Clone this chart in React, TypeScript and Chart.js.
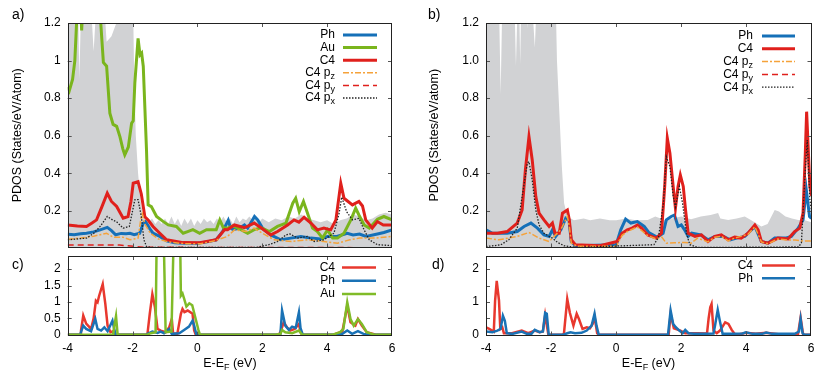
import React, { useEffect, useRef } from "react";
import { Chart, registerables } from "chart.js";

Chart.register(...registerables);

const FONT = "'Liberation Sans', Arial, Helvetica, sans-serif";
const W = 833;
const H = 382;
const YW = 40;
const XH = 30;

// ---------- ticks ----------
const xTickValues = [-4, -2, 0, 2, 4, 6];
const xTickLabels = ["-4", "-2", "0", "2", "4", "6"];
const topYTickValues = [0.2, 0.4, 0.6, 0.8, 1.0, 1.2];
const aYTickLabels = ["0.2", "0.4", "0.6", "0.8", "1", "1.2"];
const bYTickLabels = ["0.2", "0.4", "0.6", "0.8", "1.0", "1.2"];
const botYTickValues = [0, 0.5, 1, 1.5, 2];
const cYTickLabels = ["0", "0.5", "1", "1.5", "2"];
const dYTickLabels = ["0", "", "1", "", "2"];

// ---------- panel a ----------
const aGreyE = [-4.0, -3.7, -3.64, -3.6, -3.55, -3.35, -3.2, -3.05, -2.95, -2.8, -2.65, -2.5, -2.4, -2.0, -1.95, -1.9, -1.83, -1.75, -1.68, -1.6, -1.5, -1.4, -1.3, -1.2, -1.1, -1.0, -0.9, -0.8, -0.7, -0.6, -0.5, -0.4, -0.3, -0.2, -0.1, 0.0, 0.1, 0.2, 0.3, 0.4, 0.5, 0.6, 0.7, 0.8, 0.9, 1.0, 1.1, 1.2, 1.3, 1.4, 1.5, 1.6, 1.7, 1.8, 1.9, 2.0, 2.2, 2.4, 2.6, 2.8, 3.0, 3.2, 3.4, 3.6, 3.8, 4.0, 4.2, 4.4, 4.6, 4.8, 5.0, 5.2, 5.4, 5.6, 5.8, 6.0];
const aGreyV = [1.5, 1.5, 0.9, 1.2, 1.5, 1.5, 1.05, 1.5, 1.5, 1.1, 1.13, 1.2, 1.5, 1.5, 0.9, 0.6, 0.4, 0.25, 0.18, 0.15, 0.14, 0.16, 0.13, 0.15, 0.13, 0.16, 0.13, 0.17, 0.13, 0.16, 0.12, 0.16, 0.13, 0.16, 0.12, 0.15, 0.13, 0.16, 0.14, 0.15, 0.13, 0.16, 0.14, 0.17, 0.14, 0.16, 0.13, 0.17, 0.14, 0.16, 0.15, 0.17, 0.15, 0.17, 0.14, 0.16, 0.14, 0.16, 0.15, 0.17, 0.16, 0.18, 0.16, 0.15, 0.14, 0.15, 0.13, 0.15, 0.16, 0.18, 0.17, 0.15, 0.16, 0.18, 0.19, 0.18];

const aPhE = [-4.0, -3.8, -3.6, -3.42, -3.2, -3.0, -2.78, -2.65, -2.52, -2.35, -2.2, -2.08, -1.95, -1.78, -1.67, -1.6, -1.52, -1.45, -1.37, -1.16, -0.95, -0.7, -0.4, 0.0, 0.3, 0.58, 0.78, 0.95, 1.02, 1.1, 1.3, 1.45, 1.55, 1.76, 1.86, 2.01, 2.26, 2.57, 2.88, 3.19, 3.5, 3.8, 4.01, 4.3, 4.62, 4.8, 5.0, 5.2, 5.55, 5.75, 6.0];
const aPhV = [0.076, 0.073, 0.078, 0.081, 0.088, 0.099, 0.112, 0.095, 0.073, 0.08, 0.078, 0.081, 0.073, 0.081, 0.134, 0.143, 0.12, 0.1, 0.081, 0.064, 0.04, 0.03, 0.027, 0.028, 0.035, 0.046, 0.09, 0.15, 0.11, 0.1, 0.108, 0.125, 0.108, 0.17, 0.152, 0.108, 0.072, 0.046, 0.055, 0.064, 0.055, 0.05, 0.064, 0.064, 0.081, 0.072, 0.077, 0.064, 0.077, 0.085, 0.099];

const aAuE = [-4.0, -3.95, -3.85, -3.78, -3.7, -3.62, -3.57, -3.5, -3.1, -3.0, -2.9, -2.8, -2.7, -2.6, -2.49, -2.39, -2.3, -2.24, -2.13, -2.03, -1.98, -1.93, -1.83, -1.77, -1.72, -1.67, -1.57, -1.52, -1.42, -1.26, -1.06, -0.9, -0.65, -0.44, -0.3, -0.14, 0.07, 0.28, 0.58, 0.69, 0.8, 0.93, 1.1, 1.34, 1.55, 1.75, 1.97, 2.22, 2.47, 2.73, 2.94, 3.03, 3.14, 3.27, 3.39, 3.55, 3.7, 3.86, 4.01, 4.17, 4.32, 4.52, 4.73, 4.88, 4.98, 5.14, 5.3, 5.55, 5.75, 6.0];
const aAuV = [0.86, 0.84, 0.9, 1.0, 1.3, 1.35, 1.16, 1.4, 1.4, 1.25, 0.99, 0.97, 0.72, 0.66, 0.65, 0.595, 0.53, 0.498, 0.54, 0.666, 0.68, 0.88, 1.118, 1.03, 1.04, 0.97, 0.524, 0.232, 0.223, 0.17, 0.144, 0.125, 0.117, 0.081, 0.09, 0.1, 0.081, 0.1, 0.1, 0.152, 0.11, 0.108, 0.12, 0.1, 0.081, 0.1, 0.11, 0.09, 0.117, 0.135, 0.241, 0.267, 0.196, 0.25, 0.19, 0.108, 0.09, 0.055, 0.099, 0.055, 0.055, 0.081, 0.152, 0.214, 0.178, 0.125, 0.108, 0.155, 0.17, 0.152];

const aC4E = [-4.0, -3.7, -3.42, -3.25, -3.11, -2.95, -2.78, -2.65, -2.49, -2.29, -2.14, -2.05, -1.98, -1.83, -1.73, -1.62, -1.52, -1.37, -1.16, -0.95, -0.44, 0.07, 0.58, 0.84, 0.93, 1.14, 1.45, 1.75, 1.96, 2.26, 2.47, 2.78, 2.98, 3.13, 3.29, 3.5, 3.7, 3.9, 4.11, 4.27, 4.42, 4.52, 4.78, 4.98, 5.09, 5.19, 5.39, 5.55, 5.73, 6.0];
const aC4V = [0.125, 0.12, 0.117, 0.135, 0.152, 0.22, 0.294, 0.25, 0.223, 0.161, 0.17, 0.25, 0.347, 0.355, 0.29, 0.168, 0.151, 0.117, 0.081, 0.046, 0.031, 0.03, 0.046, 0.1, 0.099, 0.125, 0.11, 0.135, 0.11, 0.072, 0.09, 0.125, 0.152, 0.14, 0.166, 0.135, 0.099, 0.108, 0.099, 0.152, 0.347, 0.267, 0.232, 0.25, 0.226, 0.152, 0.108, 0.143, 0.125, 0.125];

const aPzE = [-4.0, -3.6, -3.2, -3.0, -2.8, -2.6, -2.3, -2.08, -1.83, -1.75, -1.7, -1.62, -1.45, -1.2, -0.9, -0.4, 0.1, 0.5, 0.93, 1.14, 1.5, 1.75, 2.0, 2.37, 2.9, 3.4, 3.9, 4.32, 4.7, 5.0, 5.5, 6.0];
const aPzV = [0.049, 0.055, 0.065, 0.073, 0.081, 0.06, 0.06, 0.046, 0.055, 0.15, 0.185, 0.13, 0.081, 0.05, 0.035, 0.025, 0.025, 0.04, 0.064, 0.099, 0.09, 0.108, 0.081, 0.046, 0.037, 0.046, 0.037, 0.028, 0.046, 0.055, 0.055, 0.064];

const aPyE = [-4.0, -2.4, -1.6, 6.0];
const aPyV = [0.018, 0.018, 0.006, 0.004];

const aPxE = [-4.0, -3.42, -3.2, -3.0, -2.78, -2.6, -2.5, -2.29, -2.1, -2.0, -1.93, -1.83, -1.73, -1.65, -1.57, -1.4, 1.8, 2.2, 2.47, 2.73, 2.85, 3.1, 3.39, 3.6, 3.9, 4.21, 4.37, 4.45, 4.6, 4.78, 4.98, 5.14, 5.3, 5.55, 6.0];
const aPxV = [0.046, 0.055, 0.08, 0.117, 0.17, 0.15, 0.143, 0.108, 0.117, 0.2, 0.259, 0.26, 0.17, 0.046, 0.01, 0.005, 0.005, 0.02, 0.037, 0.072, 0.077, 0.055, 0.064, 0.037, 0.046, 0.081, 0.188, 0.273, 0.196, 0.152, 0.16, 0.099, 0.046, 0.02, 0.015];

// ---------- panel b ----------
const bGreyE = [-4.0, -3.62, -3.55, -3.48, -3.15, -3.08, -3.0, -2.95, -2.9, -2.78, -2.72, -2.65, -2.5, -2.4, -1.88, -1.82, -1.67, -1.6, -1.5, -1.3, -1.0, -0.8, -0.5, -0.2, 0.0, 0.3, 0.6, 0.97, 1.2, 1.49, 1.7, 2.0, 2.3, 2.6, 2.9, 3.13, 3.2, 3.44, 3.7, 3.95, 4.15, 4.46, 4.65, 4.87, 5.0, 5.2, 5.4, 5.59, 5.8, 6.0];
const bGreyV = [1.5, 1.5, 0.82, 1.5, 1.5, 0.97, 1.5, 0.98, 1.5, 1.5, 1.17, 1.5, 1.07, 1.5, 1.5, 1.0, 0.436, 0.24, 0.17, 0.15, 0.16, 0.15, 0.16, 0.15, 0.15, 0.16, 0.15, 0.152, 0.17, 0.152, 0.16, 0.17, 0.155, 0.17, 0.178, 0.188, 0.16, 0.152, 0.16, 0.17, 0.15, 0.117, 0.13, 0.205, 0.196, 0.17, 0.16, 0.152, 0.15, 0.14];

const bPhE = [-4.0, -3.8, -3.35, -3.04, -2.83, -2.62, -2.42, -2.22, -2.06, -1.96, -1.86, -1.7, -1.55, -1.45, -1.38, -1.25, 0.0, 0.03, 0.14, 0.29, 0.45, 0.65, 0.86, 1.0, 1.25, 1.44, 1.54, 1.69, 1.79, 1.9, 2.0, 2.1, 2.21, 2.32, 2.6, 2.82, 3.03, 3.3, 3.5, 3.7, 3.95, 4.26, 4.46, 4.66, 4.87, 5.2, 5.38, 5.59, 5.74, 5.84, 5.94, 6.0];
const bPhV = [0.099, 0.081, 0.081, 0.09, 0.117, 0.135, 0.108, 0.072, 0.064, 0.099, 0.064, 0.099, 0.161, 0.15, 0.037, 0.014, 0.02, 0.037, 0.099, 0.156, 0.135, 0.143, 0.117, 0.085, 0.06, 0.081, 0.152, 0.17, 0.178, 0.117, 0.125, 0.099, 0.064, 0.081, 0.072, 0.046, 0.064, 0.064, 0.046, 0.055, 0.064, 0.117, 0.037, 0.028, 0.055, 0.055, 0.064, 0.108, 0.152, 0.312, 0.17, 0.16];

const bC4E = [-4.0, -3.65, -3.35, -3.04, -2.89, -2.79, -2.68, -2.58, -2.47, -2.37, -2.22, -2.06, -1.96, -1.88, -1.75, -1.65, -1.5, -1.44, -1.38, -1.25, -0.5, 0.03, 0.18, 0.34, 0.49, 0.65, 0.78, 0.97, 1.23, 1.39, 1.49, 1.57, 1.65, 1.75, 1.82, 1.9, 1.97, 2.06, 2.13, 2.21, 2.42, 2.62, 2.82, 3.03, 3.23, 3.44, 3.64, 3.84, 4.05, 4.26, 4.36, 4.46, 4.66, 4.97, 5.28, 5.48, 5.64, 5.74, 5.81, 5.85, 5.95, 6.0];
const bC4V = [0.081, 0.081, 0.09, 0.135, 0.205, 0.418, 0.595, 0.471, 0.276, 0.188, 0.152, 0.117, 0.135, 0.081, 0.081, 0.188, 0.205, 0.152, 0.046, 0.019, 0.014, 0.037, 0.081, 0.099, 0.108, 0.125, 0.108, 0.072, 0.055, 0.081, 0.33, 0.587, 0.507, 0.33, 0.214, 0.33, 0.391, 0.33, 0.205, 0.081, 0.064, 0.072, 0.037, 0.064, 0.072, 0.046, 0.06, 0.055, 0.081, 0.125, 0.099, 0.037, 0.028, 0.055, 0.05, 0.09, 0.108, 0.188, 0.507, 0.728, 0.33, 0.28];

const bPzE = [-4.0, -3.6, -3.04, -2.68, -2.37, -2.06, -1.7, -1.5, -1.44, -1.38, -1.2, 0.0, 0.18, 0.34, 0.65, 0.95, 1.23, 1.4, 1.54, 1.8, 2.1, 2.3, 2.5, 2.82, 3.03, 3.23, 3.44, 3.64, 4.05, 4.26, 4.46, 4.66, 4.97, 5.28, 5.5, 5.7, 6.0];
const bPzV = [0.055, 0.046, 0.064, 0.085, 0.055, 0.037, 0.1, 0.17, 0.117, 0.028, 0.012, 0.012, 0.07, 0.09, 0.115, 0.07, 0.05, 0.06, 0.028, 0.03, 0.032, 0.028, 0.055, 0.035, 0.06, 0.065, 0.04, 0.055, 0.075, 0.115, 0.035, 0.025, 0.05, 0.045, 0.045, 0.04, 0.04];

const bPyE = [-4.0, 6.0];
const bPyV = [0.004, 0.004];

const bPxE = [-4.0, -3.55, -3.3, -3.04, -2.89, -2.73, -2.68, -2.58, -2.47, -2.37, -2.22, -2.06, -1.96, -1.8, -1.6, -1.2, 1.16, 1.3, 1.45, 1.54, 1.65, 1.75, 1.82, 1.94, 2.04, 2.16, 2.26, 2.5, 5.6, 5.69, 5.81, 5.87, 5.95, 6.0];
const bPxV = [0.01, 0.019, 0.046, 0.108, 0.276, 0.454, 0.462, 0.365, 0.205, 0.125, 0.081, 0.064, 0.055, 0.032, 0.014, 0.005, 0.02, 0.06, 0.24, 0.489, 0.436, 0.28, 0.22, 0.33, 0.24, 0.08, 0.02, 0.005, 0.008, 0.03, 0.418, 0.577, 0.26, 0.2];

// ---------- panel c ----------
const cC4E = [-4.0, -3.62, -3.59, -3.52, -3.43, -3.28, -3.2, -3.13, -3.08, -3.03, -2.92, -2.84, -2.77, -2.68, -2.6, -2.53, -1.58, -1.54, -1.47, -1.39, -1.31, -1.23, -1.13, -0.98, -0.87, -0.79, -0.75, -0.62, -0.51, -0.46, -0.4, -0.3, -0.15, -0.1, -0.05, 2.5, 2.56, 2.66, 2.76, 2.86, 3.0, 3.13, 3.18, 3.23, 4.2, 4.26, 4.47, 4.62, 4.72, 4.87, 4.95, 5.07, 5.22, 5.42, 5.52, 6.0];
const cC4V = [0, 0, 0.13, 0.585, 0.34, 0.18, 0.5, 1.04, 0.99, 1.19, 1.545, 0.94, 0.28, 0.08, 0.11, 0, 0, 0.03, 0.64, 1.24, 0.84, 0.18, 0.13, 0.08, 0.23, 0.485, 0.03, 0.03, 0.64, 0.79, 0.69, 0.74, 0.64, 0.13, 0, 0, 0.08, 0.38, 0.23, 0.13, 0.18, 0.33, 0.08, 0, 0, 0.03, 0.1, 0.89, 0.38, 0.28, 0.48, 0.28, 0.08, 0.03, 0, 0];

const cPhE = [-4.0, -3.62, -3.52, -3.43, -3.28, -3.15, -3.08, -2.97, -2.87, -2.77, -2.62, -2.57, -2.52, -1.58, -1.54, -1.39, -1.23, -1.13, -1.03, -0.87, -0.79, -0.56, -0.41, -0.26, -0.15, -0.1, -0.03, 2.5, 2.56, 2.61, 2.71, 2.82, 2.92, 3.03, 3.13, 3.18, 3.25, 4.2, 4.47, 4.62, 4.77, 4.95, 5.12, 5.27, 6.0];
const cPhV = [0, 0, 0.28, 0.18, 0.11, 0.485, 0.18, 0.13, 0.23, 0.11, 0.43, 0.2, 0, 0, 0.03, 0.1, 0.06, 0.1, 0.05, 0.18, 0.03, 0.05, 0.15, 0.25, 0.43, 0.28, 0, 0, 0.03, 0.74, 0.28, 0.15, 0.25, 0.21, 0.69, 0.2, 0, 0, 0.03, 0.13, 0.03, 0.11, 0.03, 0, 0];

const cAuE = [-4.0, -2.6, -2.57, -2.51, -2.46, -1.55, -1.44, -1.29, -1.25, -1.05, -0.98, -0.8, -0.72, -0.54, -0.51, -0.46, -0.41, -0.34, -0.25, -0.16, 0.03, 0.08, 2.4, 2.56, 2.61, 2.71, 2.92, 3.13, 3.23, 4.15, 4.4, 4.5, 4.62, 4.72, 4.82, 4.95, 5.07, 5.22, 5.47, 6.0];
const cAuV = [0, 0, 0.23, 0.57, 0, 0, 0.05, 0.08, 3.5, 3.5, 0.08, 0.1, 3.5, 3.5, 1.19, 1.26, 1.1, 0.86, 0.96, 0.9, 0.15, 0, 0, 0.03, 0.15, 0.08, 0.05, 0.13, 0, 0, 0.08, 0.18, 0.99, 0.48, 0.28, 0.48, 0.33, 0.08, 0, 0];

// ---------- panel d ----------
const dC4E = [-4.0, -3.9, -3.76, -3.72, -3.67, -3.6, -3.56, -3.5, -3.45, -3.2, -2.9, -2.7, -2.5, -2.35, -2.25, -2.18, -2.13, -2.08, -1.64, -1.6, -1.5, -1.42, -1.31, -1.21, -1.14, -1.03, -0.9, -0.8, -0.72, -0.66, -0.58, -0.53, 1.62, 1.68, 1.78, 1.98, 2.13, 2.5, 2.8, 2.85, 2.9, 2.94, 3.0, 3.1, 3.2, 3.36, 3.46, 3.56, 3.67, 3.8, 4.0, 4.3, 4.62, 5.0, 5.6, 5.68, 5.76, 6.0];
const dC4V = [0.23, 0.18, 0.1, 1.04, 1.645, 1.04, 0.18, 0.23, 0.05, 0.05, 0.13, 0.05, 0.13, 0.08, 0.1, 0.6, 0.3, 0, 0, 0.05, 1.09, 0.67, 0.28, 0.64, 0.48, 0.18, 0.23, 0.2, 0.33, 0.55, 0.05, 0, 0, 0.64, 0.2, 0.13, 0.05, 0.05, 0.04, 0.5, 0.84, 0.94, 0.13, 0.05, 0.13, 0.38, 0.33, 0.15, 0, 0.02, 0.06, 0.03, 0.06, 0.02, 0.02, 0.53, 0, 0];

const dPhE = [-4.0, -3.8, -3.65, -3.55, -3.48, -3.42, -3.36, -3.2, -2.9, -2.75, -2.6, -2.5, -2.35, -2.25, -2.18, -2.13, -2.07, -1.64, -1.5, -1.4, -1.26, -1.06, -0.9, -0.75, -0.66, -0.6, -0.53, 1.6, 1.68, 1.76, 1.84, 1.95, 2.05, 2.13, 2.23, 2.4, 2.8, 3.0, 3.05, 3.13, 3.2, 3.28, 3.6, 3.9, 4.0, 4.2, 4.5, 4.62, 4.8, 5.2, 5.5, 5.63, 5.68, 5.74, 5.8, 6.0];
const dPhV = [0.1, 0.08, 0.13, 0.18, 0.585, 0.43, 0.05, 0.03, 0.1, 0.03, 0.03, 0.15, 0.08, 0.1, 0.67, 0.64, 0, 0, 0.05, 0.08, 0.05, 0.06, 0.13, 0.28, 0.64, 0.28, 0, 0, 0.74, 0.33, 0.23, 0.13, 0.05, 0.15, 0.05, 0.03, 0.03, 0.04, 0.3, 0.76, 0.4, 0.03, 0.03, 0.04, 0.08, 0.03, 0.03, 0.07, 0.03, 0.03, 0.03, 0.1, 0.48, 0.05, 0, 0];

// ---------- styles ----------
const GREY = "#d1d2d4";
const BLUE = "#1570b8";
const GREEN = "#7ab51d";
const RED = "#e0201c";
const ORANGE = "#f5a23a";
const BLACK = "#222222";
const RED2 = "#e8382e";
const BLUE2 = "#1a72b5";
const GREEN2 = "#80bb28";

type Series = {
  label: string;
  sub?: string;
  e: number[];
  v: number[];
  color: string;
  width: number;
  dash?: number[];
  fill?: boolean;
  legend?: boolean;
};

type Panel = {
  key: string;
  left: number;
  top: number;
  right: number;
  bottom: number;
  yMin: number;
  yMax: number;
  yTicks: number[];
  yTickLabels: string[];
  xLabels: boolean;
  series: Series[];
  legTextRight: number;
  legX1: number;
  legX2: number;
  legY0: number;
  legDy: number;
  tag: string;
  tagX: number;
  tagY: number;
  yTitle?: string;
  yTitleX?: number;
};

const panels: Panel[] = [
  {
    key: "a",
    left: 67.7, top: 23, right: 392, bottom: 247.5,
    yMin: 0.005, yMax: 1.2,
    yTicks: topYTickValues, yTickLabels: aYTickLabels,
    xLabels: false,
    series: [
      { label: "total", e: aGreyE, v: aGreyV, color: GREY, width: 0, fill: true, legend: false },
      { label: "Ph", e: aPhE, v: aPhV, color: BLUE, width: 3 },
      { label: "Au", e: aAuE, v: aAuV, color: GREEN, width: 3 },
      { label: "C4", e: aC4E, v: aC4V, color: RED, width: 3 },
      { label: "C4 p", sub: "z", e: aPzE, v: aPzV, color: ORANGE, width: 1.5, dash: [6, 2, 2, 2] },
      { label: "C4 p", sub: "y", e: aPyE, v: aPyV, color: RED, width: 1.5, dash: [6, 4] },
      { label: "C4 p", sub: "x", e: aPxE, v: aPxV, color: BLACK, width: 1.3, dash: [1.5, 1.5] },
    ],
    legTextRight: 335, legX1: 343, legX2: 377, legY0: 35, legDy: 12.6,
    tag: "a)", tagX: 12, tagY: 15,
    yTitle: "PDOS (States/eV/Atom)", yTitleX: 18,
  },
  {
    key: "b",
    left: 486, top: 23, right: 811.5, bottom: 247.5,
    yMin: 0.005, yMax: 1.2,
    yTicks: topYTickValues, yTickLabels: bYTickLabels,
    xLabels: false,
    series: [
      { label: "total", e: bGreyE, v: bGreyV, color: GREY, width: 0, fill: true, legend: false },
      { label: "Ph", e: bPhE, v: bPhV, color: BLUE, width: 3 },
      { label: "C4", e: bC4E, v: bC4V, color: RED, width: 3 },
      { label: "C4 p", sub: "z", e: bPzE, v: bPzV, color: ORANGE, width: 1.5, dash: [6, 2, 2, 2] },
      { label: "C4 p", sub: "y", e: bPyE, v: bPyV, color: RED, width: 1.5, dash: [6, 4] },
      { label: "C4 p", sub: "x", e: bPxE, v: bPxV, color: BLACK, width: 1.3, dash: [1.5, 1.5] },
    ],
    legTextRight: 753, legX1: 762, legX2: 795, legY0: 36, legDy: 12.8,
    tag: "b)", tagX: 428, tagY: 15,
    yTitle: "PDOS (States/eV/atom)", yTitleX: 435,
  },
  {
    key: "c",
    left: 67.7, top: 256, right: 392, bottom: 335.5,
    yMin: -0.02, yMax: 2.4,
    yTicks: botYTickValues, yTickLabels: cYTickLabels,
    xLabels: true,
    series: [
      { label: "C4", e: cC4E, v: cC4V, color: RED2, width: 2.5 },
      { label: "Ph", e: cPhE, v: cPhV, color: BLUE2, width: 2.5 },
      { label: "Au", e: cAuE, v: cAuV, color: GREEN2, width: 2.5 },
    ],
    legTextRight: 335, legX1: 342, legX2: 376, legY0: 267.5, legDy: 13.2,
    tag: "c)", tagX: 12, tagY: 265,
  },
  {
    key: "d",
    left: 486, top: 256, right: 811, bottom: 335.5,
    yMin: -0.02, yMax: 2.4,
    yTicks: botYTickValues, yTickLabels: dYTickLabels,
    xLabels: true,
    series: [
      { label: "C4", e: dC4E, v: dC4V, color: RED2, width: 2.5 },
      { label: "Ph", e: dPhE, v: dPhV, color: BLUE2, width: 2.5 },
    ],
    legTextRight: 753, legX1: 762, legX2: 795, legY0: 265.5, legDy: 12.7,
    tag: "d)", tagX: 432, tagY: 265,
  },
];

type Part = { t: string; sub?: boolean };

function drawRich(ctx: CanvasRenderingContext2D, parts: Part[], x: number, y: number, size: number, align: "left" | "right" | "center") {
  const small = Math.round(size * 0.72);
  let total = 0;
  const widths = parts.map((p) => {
    ctx.font = `${p.sub ? small : size}px ${FONT}`;
    const w = ctx.measureText(p.t).width;
    total += w;
    return w;
  });
  let cx = align === "left" ? x : align === "right" ? x - total : x - total / 2;
  ctx.textAlign = "left";
  ctx.textBaseline = "middle";
  parts.forEach((p, i) => {
    ctx.font = `${p.sub ? small : size}px ${FONT}`;
    ctx.fillText(p.t, cx, p.sub ? y + size * 0.32 : y);
    cx += widths[i];
  });
}

function gpPlugin(p: Panel) {
  return {
    id: "gp_" + p.key,
    afterDraw(chart: any) {
      const ctx: CanvasRenderingContext2D = chart.ctx;
      const { left, right, top, bottom } = chart.chartArea;
      const xs = chart.scales.x;
      const ys = chart.scales.y;
      ctx.save();
      // inward ticks
      ctx.strokeStyle = "#555";
      ctx.lineWidth = 1;
      ctx.setLineDash([]);
      ctx.beginPath();
      xTickValues.forEach((v) => {
        const px = Math.round(xs.getPixelForValue(v)) + 0.5;
        if (px < left + 2 || px > right - 2) return;
        ctx.moveTo(px, bottom);
        ctx.lineTo(px, bottom - 4);
        ctx.moveTo(px, top);
        ctx.lineTo(px, top + 4);
      });
      p.yTicks.forEach((v) => {
        const py = Math.round(ys.getPixelForValue(v)) + 0.5;
        if (py < top + 2 || py > bottom - 2) return;
        ctx.moveTo(left, py);
        ctx.lineTo(left + 4, py);
        ctx.moveTo(right, py);
        ctx.lineTo(right - 4, py);
      });
      ctx.stroke();
      // frame
      ctx.strokeStyle = "#222";
      ctx.lineWidth = 1;
      ctx.strokeRect(Math.round(left) + 0.5, Math.round(top) + 0.5, Math.round(right - left) - 1, Math.round(bottom - top) - 1);
      // legend
      let row = 0;
      p.series.forEach((s) => {
        if (s.legend === false) return;
        const y = p.legY0 + row * p.legDy;
        row++;
        ctx.fillStyle = "#000";
        const parts: Part[] = [{ t: s.label }];
        if (s.sub) parts.push({ t: s.sub, sub: true });
        drawRich(ctx, parts, p.legTextRight, y, 12, "right");
        ctx.strokeStyle = s.color;
        ctx.lineWidth = s.width;
        ctx.setLineDash(s.dash || []);
        ctx.beginPath();
        ctx.moveTo(p.legX1, y);
        ctx.lineTo(p.legX2, y);
        ctx.stroke();
        ctx.setLineDash([]);
      });
      // panel tag
      ctx.fillStyle = "#000";
      ctx.font = `14px ${FONT}`;
      ctx.textAlign = "left";
      ctx.textBaseline = "middle";
      ctx.fillText(p.tag, p.tagX, p.tagY);
      // y title
      if (p.yTitle) {
        ctx.save();
        ctx.translate(p.yTitleX as number, (top + bottom) / 2);
        ctx.rotate(-Math.PI / 2);
        ctx.font = `12.5px ${FONT}`;
        ctx.textAlign = "center";
        ctx.textBaseline = "middle";
        ctx.fillText(p.yTitle, 0, 0);
        ctx.restore();
      }
      // x title
      if (p.xLabels) {
        drawRich(ctx, [{ t: "E-E" }, { t: "F", sub: true }, { t: " (eV)" }], (left + right) / 2, 364, 12.5, "center");
      }
      ctx.restore();
    },
  };
}

function PanelChart({ panel }: { panel: Panel }) {
  const ref = useRef<HTMLCanvasElement>(null);
  useEffect(() => {
    const p = panel;
    const datasets = p.series.map((s, idx) => ({
      label: s.sub ? s.label + s.sub : s.label,
      data: s.e.map((x, i) => ({ x, y: s.v[i] })),
      borderColor: s.fill ? "rgba(0,0,0,0)" : s.color,
      backgroundColor: s.color,
      borderWidth: s.fill ? 0 : s.width,
      borderDash: s.dash || [],
      fill: s.fill ? "start" : false,
      pointRadius: 0,
      tension: 0,
      order: 100 - idx,
    }));
    const chart = new Chart(ref.current as HTMLCanvasElement, {
      type: "line",
      data: { datasets } as any,
      options: {
        animation: false,
        responsive: false,
        devicePixelRatio: 1,
        events: [],
        layout: {
          padding: {
            left: p.left - YW,
            top: p.top,
            right: W - p.right,
            bottom: H - p.bottom - (p.xLabels ? XH : 0),
          },
        },
        plugins: {
          legend: { display: false },
          tooltip: { enabled: false },
          title: { display: false },
        },
        scales: {
          x: {
            type: "linear",
            min: -4,
            max: 6,
            display: p.xLabels,
            afterBuildTicks: (s: any) => {
              s.ticks = xTickValues.map((v) => ({ value: v }));
            },
            ...(p.xLabels ? { afterFit: (s: any) => { s.height = XH; } } : {}),
            grid: { display: false, drawTicks: false },
            border: { display: false },
            ticks: {
              autoSkip: false,
              maxRotation: 0,
              padding: 6,
              color: "#000",
              font: { size: 12, family: FONT },
              callback: (_v: any, i: number) => xTickLabels[i],
            },
          },
          y: {
            type: "linear",
            min: p.yMin,
            max: p.yMax,
            afterBuildTicks: (s: any) => {
              s.ticks = p.yTicks.map((v) => ({ value: v }));
            },
            afterFit: (s: any) => {
              s.width = YW;
            },
            grid: { display: false, drawTicks: false },
            border: { display: false },
            ticks: {
              autoSkip: false,
              padding: 7,
              color: "#000",
              font: { size: 12, family: FONT },
              callback: (_v: any, i: number) => p.yTickLabels[i],
            },
          },
        },
      } as any,
      plugins: [gpPlugin(p)],
    });
    return () => chart.destroy();
  }, [panel]);
  return (
    <canvas
      ref={ref}
      width={W}
      height={H}
      style={{ position: "absolute", left: 0, top: 0, width: W, height: H }}
    />
  );
}

export default function App() {
  return (
    <div style={{ position: "absolute", left: 0, top: 0, width: W, height: H, background: "#fff" }}>
      {panels.map((p) => (
        <PanelChart key={p.key} panel={p} />
      ))}
    </div>
  );
}
